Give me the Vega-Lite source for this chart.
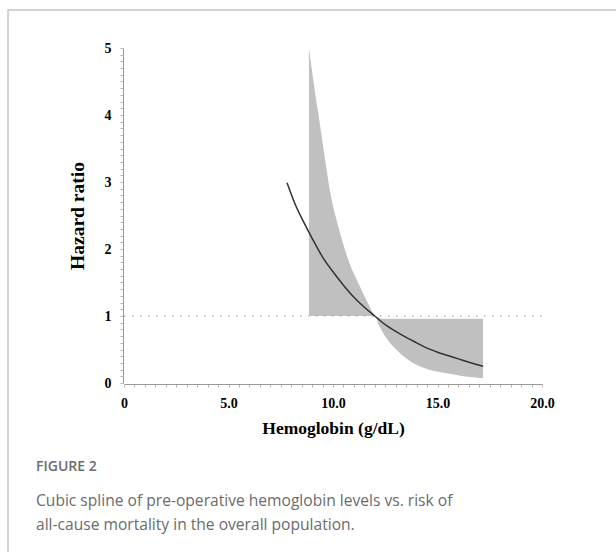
{
  "$schema": "https://vega.github.io/schema/vega-lite/v6.json",
  "width": 418,
  "height": 335,
  "autosize": {"type": "none"},
  "padding": {"left": 124, "top": 48, "right": 74, "bottom": 169},
  "background": "white",
  "config": {"view": {"stroke": null}},
  "datasets": {
    "band": [
      {"hb": 8.85, "lo": 1.0, "hi": 5.0},
      {"hb": 9.1, "lo": 1.0, "hi": 4.42},
      {"hb": 9.38, "lo": 1.0, "hi": 3.85},
      {"hb": 9.6, "lo": 1.0, "hi": 3.38},
      {"hb": 9.86, "lo": 1.0, "hi": 2.86},
      {"hb": 10.25, "lo": 1.0, "hi": 2.34},
      {"hb": 10.73, "lo": 1.0, "hi": 1.84},
      {"hb": 11.29, "lo": 1.0, "hi": 1.44},
      {"hb": 11.77, "lo": 1.0, "hi": 1.13},
      {"hb": 12.0, "lo": 1.0, "hi": 1.0},
      {"hb": 12.2, "lo": 0.86, "hi": 0.97},
      {"hb": 12.39, "lo": 0.75, "hi": 0.96},
      {"hb": 12.7, "lo": 0.61, "hi": 0.96},
      {"hb": 13.06, "lo": 0.49, "hi": 0.96},
      {"hb": 13.4, "lo": 0.39, "hi": 0.96},
      {"hb": 13.83, "lo": 0.3, "hi": 0.96},
      {"hb": 14.4, "lo": 0.22, "hi": 0.96},
      {"hb": 14.98, "lo": 0.17, "hi": 0.96},
      {"hb": 15.5, "lo": 0.14, "hi": 0.96},
      {"hb": 16.08, "lo": 0.11, "hi": 0.96},
      {"hb": 16.6, "lo": 0.09, "hi": 0.96},
      {"hb": 17.18, "lo": 0.07, "hi": 0.96}
    ],
    "curve": [
      {"hb": 7.8, "hr": 2.99},
      {"hb": 8.2, "hr": 2.66},
      {"hb": 8.6, "hr": 2.4},
      {"hb": 9.0, "hr": 2.16},
      {"hb": 9.5, "hr": 1.88},
      {"hb": 10.0, "hr": 1.66},
      {"hb": 10.5, "hr": 1.46},
      {"hb": 11.0, "hr": 1.28},
      {"hb": 11.5, "hr": 1.13},
      {"hb": 12.0, "hr": 1.0},
      {"hb": 12.5, "hr": 0.87},
      {"hb": 13.0, "hr": 0.77},
      {"hb": 13.5, "hr": 0.68},
      {"hb": 14.0, "hr": 0.6},
      {"hb": 14.5, "hr": 0.52},
      {"hb": 15.0, "hr": 0.46},
      {"hb": 15.5, "hr": 0.41},
      {"hb": 16.0, "hr": 0.36},
      {"hb": 16.5, "hr": 0.31},
      {"hb": 17.18, "hr": 0.25}
    ],
    "one": [{}]
  },
  "layer": [
    {
      "data": {"name": "band"},
      "mark": {"type": "area", "color": "#c0c0c0", "interpolate": "monotone", "opacity": 1},
      "encoding": {
        "x": {
          "field": "hb", "type": "quantitative",
          "scale": {"domain": [0, 20], "nice": false, "zero": false},
          "title": "Hemoglobin (g/dL)",
          "axis": {
            "values": [0,0.5,1,1.5,2,2.5,3,3.5,4,4.5,5,5.5,6,6.5,7,7.5,8,8.5,9,9.5,10,10.5,11,11.5,12,12.5,13,13.5,14,14.5,15,15.5,16,16.5,17,17.5,18,18.5,19,19.5,20],
            "tickCount": 200,
            "labelExpr": "datum.value == 0 ? '0' : (datum.value % 5 == 0 ? format(datum.value, '.1f') : '')",
            "labelOverlap": false,
            "labelFlush": false,
            "grid": false,
            "offset": 1,
            "domainColor": "#9a9a9a",
            "tickColor": "#b5b5b5",
            "tickSize": 3,
            "labelFont": "Liberation Serif",
            "labelFontWeight": "bold",
            "labelFontSize": 14,
            "labelColor": "#000",
            "labelPadding": 9,
            "titleFont": "Liberation Serif",
            "titleFontWeight": "bold",
            "titleFontSize": 17.5,
            "titleColor": "#000",
            "titlePadding": 9
          }
        },
        "y": {
          "field": "lo", "type": "quantitative",
          "scale": {"domain": [0, 5], "nice": false, "zero": false},
          "title": "Hazard ratio",
          "axis": {
            "values": [0,0.1,0.2,0.3,0.4,0.5,0.6,0.7,0.8,0.9,1,1.1,1.2,1.3,1.4,1.5,1.6,1.7,1.8,1.9,2,2.1,2.2,2.3,2.4,2.5,2.6,2.7,2.8,2.9,3,3.1,3.2,3.3,3.4,3.5,3.6,3.7,3.8,3.9,4,4.1,4.2,4.3,4.4,4.5,4.6,4.7,4.8,4.9,5],
            "tickCount": 200,
            "labelExpr": "datum.value % 1 == 0 ? format(datum.value, 'd') : ''",
            "labelOverlap": false,
            "labelFlush": false,
            "grid": false,
            "offset": 1,
            "domainColor": "#9a9a9a",
            "tickColor": "#b5b5b5",
            "tickSize": 3,
            "labelFont": "Liberation Serif",
            "labelFontWeight": "bold",
            "labelFontSize": 14,
            "labelColor": "#000",
            "labelPadding": 9,
            "titleFont": "Liberation Serif",
            "titleFontWeight": "bold",
            "titleFontSize": 19.5,
            "titleColor": "#000",
            "titlePadding": 17
          }
        },
        "y2": {"field": "hi"}
      }
    },
    {
      "data": {"name": "one"},
      "mark": {"type": "rect", "fill": null, "stroke": "#c4c4c4", "strokeWidth": 1.5, "clip": false},
      "encoding": {
        "x": {"datum": -5.55, "type": "quantitative"},
        "x2": {"datum": 24},
        "y": {"datum": 5.567, "type": "quantitative"},
        "y2": {"datum": -4}
      }
    },
    {
      "data": {"name": "one"},
      "mark": {"type": "rule", "color": "#9a9a9a", "strokeDash": [1.5, 6.5], "strokeWidth": 1.2},
      "encoding": {
        "x": {"datum": 0, "type": "quantitative"},
        "x2": {"datum": 20},
        "y": {"datum": 1, "type": "quantitative"}
      }
    },
    {
      "data": {"name": "curve"},
      "mark": {"type": "line", "color": "#333333", "strokeWidth": 1.5, "interpolate": "monotone"},
      "encoding": {
        "x": {"field": "hb", "type": "quantitative"},
        "y": {"field": "hr", "type": "quantitative"}
      }
    },
    {
      "data": {"name": "one"},
      "mark": {"type": "text", "align": "left", "baseline": "alphabetic", "font": "Open Sans", "fontSize": 14, "fontWeight": 600, "color": "#6b6b6b", "clip": false},
      "encoding": {
        "x": {"datum": -4.211, "type": "quantitative"},
        "y": {"datum": -1.313, "type": "quantitative"},
        "text": {"value": "FIGURE 2"}
      }
    },
    {
      "data": {"name": "one"},
      "mark": {"type": "text", "align": "left", "baseline": "alphabetic", "font": "Open Sans", "fontSize": 15.6, "fontWeight": 400, "color": "#6b6b6b", "lineHeight": 24, "clip": false},
      "encoding": {
        "x": {"datum": -4.211, "type": "quantitative"},
        "y": {"datum": -1.836, "type": "quantitative"},
        "text": {"value": ["Cubic spline of pre-operative hemoglobin levels vs. risk of", "all-cause mortality in the overall population."]}
      }
    }
  ]
}
